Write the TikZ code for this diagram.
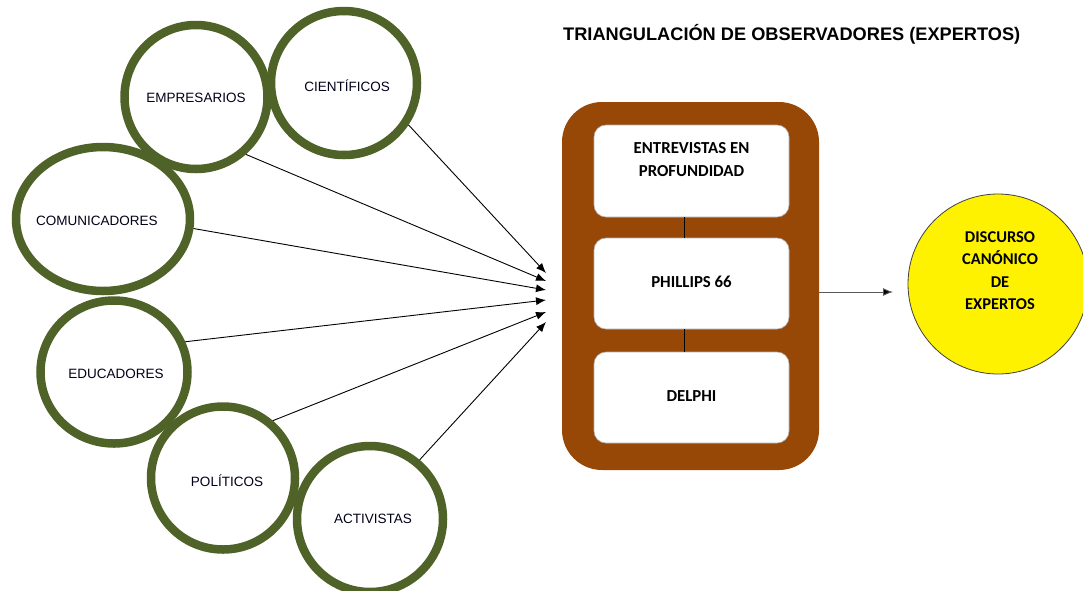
\documentclass[tikz,border=0pt]{standalone}
\usepackage{fontspec}
\setmainfont{Liberation Sans}
\newfontfamily\calfont{Carlito}
\usetikzlibrary{shapes.geometric,arrows.meta}
\definecolor{olive}{RGB}{79,98,40}
\definecolor{brownbox}{RGB}{151,71,6}
\definecolor{arrgray}{RGB}{90,90,90}
\tikzset{
  ring/.style={ellipse,draw=olive,line width=8.5pt,fill=white,inner sep=0pt},
  lbl/.style={font=\fontsize{13.5}{16}\selectfont,text=black!90!blue,inner sep=0pt},
  conn/.style={line width=0.9pt,-{Latex[length=10pt,width=8pt]}},
  inbox/.style={rectangle,rounded corners=12pt,fill=white,draw=gray!60,line width=0.6pt,minimum width=195pt,inner sep=0pt},
  boxtxt/.style={font=\calfont\bfseries\fontsize{16.8}{23}\selectfont,align=center,inner sep=0pt},
}
\begin{document}
\begin{tikzpicture}[x=1pt,y=-1pt]
\useasboundingbox (0,0) rectangle (1083,590);
% title
\node[font=\bfseries\fontsize{18.2}{21}\selectfont,anchor=west,inner sep=0pt] (title) at (563,34) {TRIANGULACIÓN DE OBSERVADORES (EXPERTOS)};
% rings
\node[ring,minimum width=174pt,minimum height=144pt] (com) at (103,219) {};
\node[ring,minimum width=143pt,minimum height=144pt] (emp) at (196,97) {};
\node[ring,minimum width=146pt,minimum height=144pt] (cie) at (344,83) {};
\node[ring,minimum width=147pt,minimum height=143pt] (edu) at (114,372) {};
\node[ring,minimum width=144pt,minimum height=143pt] (pol) at (223,478) {};
\node[ring,minimum width=146pt,minimum height=146pt] (act) at (370,519) {};
\node[lbl] (lemp) at (196,98) {EMPRESARIOS};
\node[lbl] (lcie) at (347,86) {CIENTÍFICOS};
\node[lbl] (lcom) at (97,221) {COMUNICADORES};
\node[lbl] (ledu) at (116,374) {EDUCADORES};
\node[lbl] (lpol) at (227,481) {POLÍTICOS};
\node[lbl] (lact) at (373,519) {ACTIVISTAS};
% arrow tips
\coordinate (t1) at (546,273);
\coordinate (t2) at (546,281);
\coordinate (t3) at (546,290);
\coordinate (t4) at (546,300);
\coordinate (t5) at (546,312);
\coordinate (t6) at (546,322);
\draw[conn] (cie.-33) -- (t1);
\draw[conn] (emp.-49) -- (t2);
\draw[conn] (com.-6) -- (t3);
\draw[conn] (edu.23) -- (t4);
\draw[conn] (pol.49) -- (t5);
\draw[conn] (act.50) -- (t6);
% central frame
\node[rectangle,rounded corners=40pt,fill=brownbox,minimum width=257pt,minimum height=368pt,inner sep=0pt] (frame) at (690.5,286) {};
\node[inbox,minimum height=92pt] (b1) at (691.5,171) {};
\node[inbox,minimum height=91pt] (b2) at (691.5,283.5) {};
\node[inbox,minimum height=91pt] (b3) at (691.5,397.5) {};
\draw[line width=0.9pt] ([xshift=-7.5pt]b1.south) -- ([xshift=-7.5pt]b2.north);
\draw[line width=0.9pt] ([xshift=-7.5pt]b2.south) -- ([xshift=-7.5pt]b3.north);
\node[boxtxt] (tb1) at (691.5,159.5) {ENTREVISTAS EN\\PROFUNDIDAD};
\node[boxtxt] (tb2) at (691.5,282) {PHILLIPS 66};
\node[boxtxt] (tb3) at (691.5,396) {DELPHI};
% output
\node[circle,fill=yellow,draw=black!75,line width=0.8pt,minimum size=180pt,inner sep=0pt] (disc) at (998,284) {};
\node[boxtxt,font=\calfont\bfseries\fontsize{16.5}{22.5}\selectfont] (tdisc) at (1000,270.5) {DISCURSO\\CANÓNICO\\DE\\EXPERTOS};
\coordinate (tr) at (893,292);
\draw[line width=0.9pt,draw=arrgray,-{Latex[length=10pt,width=8pt,fill=black]}] (tr -| frame.east) -- (tr);
\end{tikzpicture}
\end{document}
